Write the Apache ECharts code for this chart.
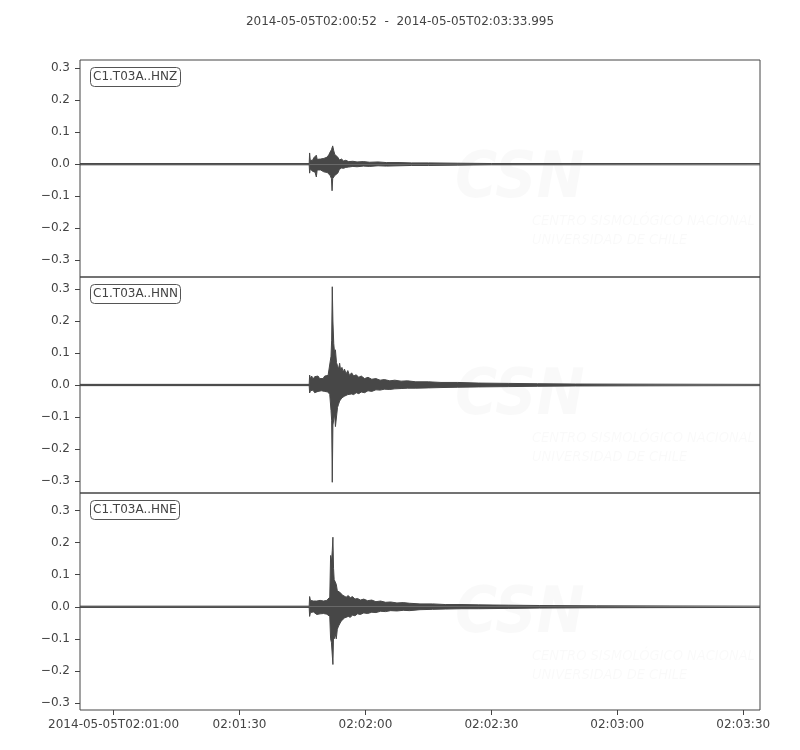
<!DOCTYPE html>
<html>
<head>
<meta charset="utf-8">
<script src="https://cdn.jsdelivr.net/npm/echarts@6/dist/echarts.min.js"></script>
<style>
  html, body { margin: 0; padding: 0; background: #fff; }
  #chart { width: 800px; height: 750px; }
</style>
</head>
<body>
<div id="chart"></div>
<script>
// time axis: seconds after 2014-05-05T02:00:00
const tStart = 52
const tEnd = 213.995
const xTicks = [60, 90, 120, 150, 180, 210]
const xTickLabels = ['2014-05-05T02:01:00', '02:01:30', '02:02:00', '02:02:30', '02:03:00', '02:03:30']
const yTicks = [-0.3, -0.2, -0.1, 0, 0.1, 0.2, 0.3]
const traceNames = ['C1.T03A..HNZ', 'C1.T03A..HNN', 'C1.T03A..HNE']
const yRanges = [[-0.352, 0.325], [-0.3375, 0.3375], [-0.322, 0.355]]

// envelope of each trace: [time, max, min]
const hnzEnv = [
    [52, 0.002, -0.002], [106.6, 0.002, -0.002], [106.7, 0.035, -0.028], [106.85, 0.012, -0.015],
    [107.1, 0.018, -0.02], [107.4, 0.012, -0.022], [107.7, 0.02, -0.016], [108.0, 0.016, -0.025],
    [108.3, 0.028, -0.04], [108.5, 0.015, -0.018], [108.9, 0.02, -0.022], [109.3, 0.016, -0.018],
    [109.7, 0.022, -0.02], [110.1, 0.018, -0.024], [110.5, 0.024, -0.018], [110.9, 0.022, -0.026],
    [111.3, 0.03, -0.03], [111.6, 0.038, -0.035], [111.9, 0.045, -0.045], [112.05, 0.05, -0.083],
    [112.2, 0.057, -0.045], [112.45, 0.042, -0.05], [112.7, 0.03, -0.035], [113.0, 0.026, -0.04],
    [113.4, 0.022, -0.028], [113.8, 0.013, -0.016], [114.3, 0.016, -0.012], [114.8, 0.01, -0.013],
    [115.3, 0.012, -0.01], [116.0, 0.008, -0.009], [117.0, 0.009, -0.007], [118.0, 0.007, -0.008],
    [119.5, 0.008, -0.006], [121, 0.006, -0.007], [123, 0.007, -0.005], [125, 0.005, -0.006],
    [128, 0.005, -0.005], [131, 0.004, -0.004], [135, 0.004, -0.004], [142, 0.003, -0.003],
    [150, 0.002, -0.002], [213.995, 0.002, -0.002]
]

const hnnEnv = [
    [52, 0.002, -0.002], [106.6, 0.002, -0.002], [106.7, 0.031, -0.025], [106.9, 0.02, -0.018],
    [107.2, 0.028, -0.022], [107.5, 0.018, -0.016], [107.9, 0.026, -0.024], [108.3, 0.022, -0.018],
    [108.7, 0.028, -0.02], [109.1, 0.02, -0.025], [109.5, 0.026, -0.018], [109.9, 0.02, -0.022],
    [110.3, 0.028, -0.02], [110.7, 0.024, -0.026], [111.1, 0.03, -0.022], [111.5, 0.035, -0.03],
    [111.8, 0.09, -0.08], [111.95, 0.14, -0.11], [112.1, 0.307, -0.304], [112.25, 0.2, -0.125],
    [112.45, 0.13, -0.13], [112.65, 0.1, -0.09], [112.85, 0.11, -0.13], [113.1, 0.07, -0.1],
    [113.35, 0.06, -0.07], [113.6, 0.05, -0.06], [113.85, 0.068, -0.05], [114.1, 0.045, -0.055],
    [114.4, 0.055, -0.04], [114.7, 0.04, -0.045], [115.0, 0.05, -0.035], [115.4, 0.035, -0.04],
    [115.8, 0.045, -0.03], [116.2, 0.03, -0.036], [116.7, 0.038, -0.028], [117.2, 0.028, -0.03],
    [117.8, 0.032, -0.024], [118.4, 0.024, -0.027], [119.0, 0.028, -0.022], [119.8, 0.02, -0.024],
    [120.6, 0.024, -0.018], [121.5, 0.018, -0.02], [122.5, 0.02, -0.015], [123.5, 0.015, -0.016],
    [124.5, 0.017, -0.013], [125.8, 0.013, -0.014], [127, 0.015, -0.012], [128.5, 0.012, -0.011],
    [130, 0.013, -0.01], [132, 0.01, -0.01], [135, 0.01, -0.009], [138, 0.008, -0.008],
    [142, 0.008, -0.007], [147, 0.006, -0.006], [154, 0.005, -0.005], [161, 0.004, -0.004],
    [170, 0.003, -0.003], [213.995, 0.002, -0.002]
]

const hneEnv = [
    [52, 0.002, -0.002], [106.6, 0.002, -0.002], [106.7, 0.032, -0.03], [106.9, 0.02, -0.018],
    [107.2, 0.024, -0.024], [107.6, 0.018, -0.016], [108.0, 0.022, -0.02], [108.4, 0.018, -0.024],
    [108.8, 0.022, -0.018], [109.2, 0.02, -0.022], [109.6, 0.024, -0.017], [110.0, 0.018, -0.021],
    [110.4, 0.022, -0.018], [110.8, 0.02, -0.023], [111.2, 0.025, -0.02], [111.5, 0.03, -0.03],
    [111.7, 0.16, -0.1], [111.9, 0.14, -0.112], [112.1, 0.175, -0.11], [112.25, 0.217, -0.18],
    [112.4, 0.12, -0.09], [112.55, 0.085, -0.1], [112.8, 0.09, -0.085], [113.05, 0.07, -0.1],
    [113.3, 0.05, -0.07], [113.6, 0.055, -0.06], [113.9, 0.045, -0.062], [114.2, 0.048, -0.045],
    [114.6, 0.036, -0.05], [115.0, 0.04, -0.035], [115.4, 0.03, -0.038], [115.9, 0.035, -0.03],
    [116.4, 0.028, -0.033], [116.9, 0.032, -0.026], [117.5, 0.024, -0.028], [118.1, 0.026, -0.022],
    [118.8, 0.021, -0.024], [119.6, 0.024, -0.019], [120.5, 0.019, -0.021], [121.5, 0.021, -0.017],
    [122.5, 0.016, -0.018], [123.6, 0.018, -0.014], [124.8, 0.014, -0.015], [126, 0.015, -0.012],
    [127.5, 0.012, -0.013], [129, 0.013, -0.011], [130.5, 0.011, -0.012], [133, 0.009, -0.009],
    [136, 0.009, -0.008], [139, 0.007, -0.007], [143, 0.007, -0.006], [147, 0.006, -0.006],
    [154, 0.005, -0.005], [161.4, 0.004, -0.004], [175, 0.003, -0.003], [213.995, 0.002, -0.002]
]

const traces = [hnzEnv, hnnEnv, hneEnv]

const font = 'DejaVu Sans'
const textColor = '#444'
const traceColor = '#474747'
const gridTops = [60, 277, 493]
const gridHeights = [217, 216, 217]

const yLabel = (v) => {
    const r = Math.round(v * 10) / 10
    return (r < 0 ? '\u2212' : '') + Math.abs(r).toFixed(1)
}

const grids = gridTops.map((top, i) => ({
    left: 80,
    right: 40,
    top: top,
    height: gridHeights[i],
    show: true,
    borderColor: '#444',
    borderWidth: 1,
    backgroundColor: 'transparent'
}))

const xAxes = gridTops.map((top, i) => {
    const last = i === gridTops.length - 1
    return {
        type: 'value',
        gridIndex: i,
        position: 'bottom',
        min: tStart,
        max: tEnd,
        axisLine: { show: false, onZero: false },
        splitLine: { show: false },
        axisTick: {
            show: last,
            length: 5,
            customValues: xTicks,
            lineStyle: { color: '#444' }
        },
        axisLabel: {
            show: last,
            customValues: xTicks,
            margin: 9,
            fontFamily: font,
            fontSize: 12,
            color: textColor,
            formatter: (v) => xTickLabels[xTicks.indexOf(Math.round(v))] || ''
        }
    }
})

const yAxes = gridTops.map((top, i) => ({
    type: 'value',
    gridIndex: i,
    min: yRanges[i][0],
    max: yRanges[i][1],
    axisLine: { show: false, onZero: false },
    splitLine: { show: false },
    axisTick: {
        show: true,
        length: 5,
        customValues: yTicks,
        lineStyle: { color: '#444' }
    },
    axisLabel: {
        customValues: yTicks,
        margin: 10,
        fontFamily: font,
        fontSize: 12,
        color: textColor,
        formatter: yLabel
    }
}))

// upper and lower envelope, each filled to zero
const series = []
traces.forEach((env, i) => {
    [1, 2].forEach((k) => {
        series.push({
            type: 'line',
            xAxisIndex: i,
            yAxisIndex: i,
            data: env.map((row) => [row[0], row[k]]),
            symbol: 'none',
            silent: true,
            lineStyle: { color: traceColor, width: 1 },
            areaStyle: { color: traceColor, opacity: 1, origin: 0 },
            z: 3
        })
    })
})

// main title and label boxes
const titles = [{
    text: '2014-05-05T02:00:52  -  2014-05-05T02:03:33.995',
    left: 'center',
    top: 11,
    textStyle: { fontFamily: font, fontSize: 12, fontWeight: 'normal', color: textColor }
}].concat(traceNames.map((name, i) => ({
    text: name,
    left: 90,
    top: gridTops[i] + 7,
    padding: [3, 3],
    borderColor: '#555',
    borderWidth: 1,
    borderRadius: 4,
    backgroundColor: '#fff',
    textStyle: { fontFamily: font, fontSize: 12, fontWeight: 'normal', color: textColor, lineHeight: 14 }
})))

// faint CSN watermark in each panel
const wmFill = 'rgba(0,0,0,0.022)'
const wmFont = '"DejaVu Sans Condensed", sans-serif'
const watermark = []
gridTops.forEach((top, i) => {
    const dy = top - 60 + (i === 2 ? 2 : 0)
    watermark.push({
        type: 'text', z: 0, silent: true,
        style: { text: 'CSN', x: 455, y: 148 + dy, font: 'italic bold 64px ' + wmFont, fill: wmFill }
    })
    watermark.push({
        type: 'text', z: 0, silent: true,
        style: { text: 'CENTRO SISMOLÓGICO NACIONAL', x: 532, y: 214 + dy, font: 'italic 14.5px ' + wmFont, fill: wmFill }
    })
    watermark.push({
        type: 'text', z: 0, silent: true,
        style: { text: 'UNIVERSIDAD DE CHILE', x: 532, y: 233 + dy, font: 'italic 14.5px ' + wmFont, fill: wmFill }
    })
})

const chart = echarts.init(document.getElementById('chart'), null, { renderer: 'canvas' })
chart.setOption({
    animation: false,
    backgroundColor: '#fff',
    title: titles,
    grid: grids,
    xAxis: xAxes,
    yAxis: yAxes,
    series: series,
    graphic: watermark
})
</script>
</body>
</html>
